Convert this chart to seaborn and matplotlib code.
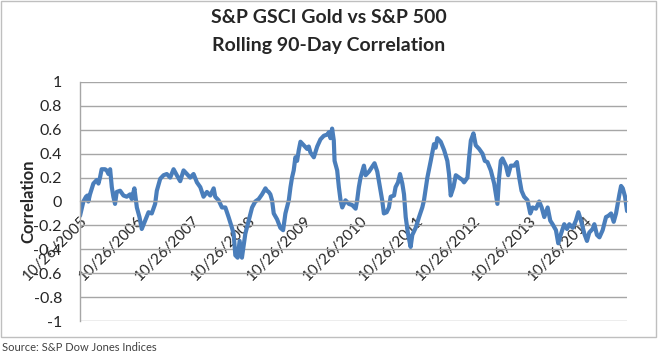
import matplotlib
matplotlib.use('Agg')
from matplotlib import pyplot as plt
from matplotlib.patches import Rectangle
import seaborn as sns
import pandas as pd

start_date = '2005-10-26'
# days after start_date
day_offsets = [
    0, 22, 39, 48, 54, 65, 87, 109, 120, 130, 141, 163, 174, 185, 196, 207, 217, 228, 239, 261,
    283, 304, 326, 337, 354, 370, 387, 402, 424, 446, 467, 489, 500, 522, 544, 565, 587, 609, 630, 652,
    674, 696, 717, 739, 761, 783, 804, 826, 848, 870, 880, 902, 924, 946, 967, 989, 1000, 1011, 1026, 1039,
    1054, 1076, 1098, 1120, 1141, 1163, 1185, 1207, 1217, 1228, 1239, 1250, 1261, 1283, 1304, 1322, 1337, 1359, 1370, 1380,
    1391, 1402, 1413, 1424, 1435, 1457, 1478, 1489, 1500, 1522, 1544, 1565, 1587, 1609, 1620, 1630, 1641, 1652, 1657, 1674,
    1685, 1696, 1707, 1728, 1750, 1772, 1794, 1804, 1815, 1826, 1848, 1859, 1881, 1902, 1917, 1935, 1952, 1967, 1978, 1996,
    2011, 2022, 2044, 2054, 2070, 2083, 2098, 2109, 2120, 2135, 2152, 2163, 2185, 2207, 2228, 2239, 2261, 2283, 2304, 2315,
    2326, 2348, 2370, 2391, 2402, 2413, 2431, 2446, 2467, 2489, 2500, 2522, 2533, 2544, 2561, 2576, 2598, 2620, 2635, 2652,
    2674, 2696, 2717, 2728, 2739, 2750, 2772, 2787, 2804, 2826, 2844, 2859, 2874, 2891, 2913, 2931, 2946, 2968, 2989, 3005,
    3022, 3044, 3061, 3076, 3098, 3113, 3131, 3152, 3170, 3185, 3207, 3228, 3244, 3261, 3283, 3300, 3315, 3337, 3348, 3365,
    3381, 3402, 3424, 3439, 3457, 3474, 3489, 3500, 3511, 3522, 3533, 3548, 3561,
]
correlation = [
    -0.12, 0.00, 0.04, 0.05, 0.00, 0.06, 0.15, 0.18, 0.15, 0.20, 0.27, 0.27, 0.26, 0.23, 0.27, 0.12, 0.04, -0.02, 0.08, 0.09,
    0.05, 0.04, 0.06, 0.02, 0.11, -0.05, -0.13, -0.23, -0.16, -0.09, -0.10, -0.02, 0.09, 0.19, 0.22, 0.23, 0.20, 0.27, 0.22, 0.17,
    0.26, 0.23, 0.20, 0.23, 0.16, 0.12, 0.04, 0.08, 0.05, 0.11, 0.04, 0.01, -0.05, -0.05, -0.13, -0.22, -0.27, -0.45, -0.47, -0.33,
    -0.47, -0.27, -0.16, -0.05, 0.00, 0.02, 0.06, 0.11, 0.09, 0.08, 0.06, 0.01, -0.10, -0.15, -0.22, -0.24, -0.10, 0.01, 0.12, 0.20,
    0.26, 0.37, 0.34, 0.43, 0.50, 0.47, 0.44, 0.46, 0.41, 0.37, 0.46, 0.52, 0.55, 0.56, 0.58, 0.53, 0.61, 0.51, 0.34, 0.26,
    0.12, 0.01, -0.05, 0.01, -0.02, -0.03, -0.06, 0.01, 0.12, 0.20, 0.30, 0.22, 0.25, 0.29, 0.32, 0.25, 0.12, 0.01, -0.10, -0.09,
    -0.05, 0.04, 0.05, 0.12, 0.16, 0.23, 0.15, 0.06, -0.13, -0.27, -0.38, -0.28, -0.22, -0.13, -0.05, 0.01, 0.20, 0.34, 0.48, 0.45,
    0.53, 0.50, 0.43, 0.34, 0.23, 0.05, 0.12, 0.22, 0.20, 0.18, 0.16, 0.20, 0.37, 0.51, 0.57, 0.47, 0.44, 0.40, 0.34, 0.33,
    0.26, 0.15, -0.02, 0.20, 0.34, 0.36, 0.30, 0.22, 0.30, 0.30, 0.33, 0.20, 0.09, 0.04, 0.01, -0.10, -0.05, -0.06, 0.00, -0.05,
    -0.13, -0.05, -0.16, -0.19, -0.24, -0.35, -0.27, -0.19, -0.23, -0.19, -0.22, -0.16, -0.09, -0.16, -0.27, -0.33, -0.26, -0.23, -0.19, -0.28,
    -0.30, -0.24, -0.13, -0.12, -0.10, -0.17, -0.10, -0.02, 0.06, 0.13, 0.11, 0.04, -0.08,
]
tick_dates = ['2005-10-26', '2006-10-26', '2007-10-26', '2008-10-26', '2009-10-26',
              '2010-10-26', '2011-10-26', '2012-10-26', '2013-10-26', '2014-10-26']
tick_labels = ['10/26/2005', '10/26/2006', '10/26/2007', '10/26/2008', '10/26/2009',
               '10/26/2010', '10/26/2011', '10/26/2012', '10/26/2013', '10/26/2014']
y_ticks = [-1, -0.8, -0.6, -0.4, -0.2, 0, 0.2, 0.4, 0.6, 0.8, 1]
y_tick_labels = ['-1', '-0.8', '-0.6', '-0.4', '-0.2', '0', '0.2', '0.4', '0.6', '0.8', '1']

df = pd.DataFrame({
    'date': pd.Timestamp(start_date) + pd.to_timedelta(day_offsets, unit='D'),
    'corr': correlation,
})

sns.set_style('white')
plt.rcParams['font.family'] = ['Lato', 'DejaVu Sans']

fig = plt.figure(figsize=(6.58, 3.56), dpi=100)
ax = fig.add_axes([0.1216, 0.0983, 0.8314, 0.6714])

sns.lineplot(data=df, x='date', y='corr', ax=ax, color='#4A7EBB', linewidth=3)

# spine moves reset the ticks, so do them first
for side in ['top', 'right']:
    ax.spines[side].set_visible(False)
ax.spines['bottom'].set_position(('data', 0))
ax.spines['bottom'].set_color('#A6A6A6')
ax.spines['left'].set_color('#A6A6A6')
ax.spines['left'].set_linewidth(1)
ax.spines['bottom'].set_linewidth(1)

ax.set_ylim(-1, 1)
ax.set_xlim(df['date'].iloc[0], df['date'].iloc[-1])
ax.yaxis.grid(True, color='#A6A6A6', linewidth=1)
ax.set_axisbelow(True)
ax.tick_params(axis='both', length=0)
ax.tick_params(axis='x', pad=9)
ax.tick_params(axis='y', pad=13)

ax.set_yticks(y_ticks, y_tick_labels, fontsize=11.5)
ax.set_xticks(pd.to_datetime(tick_dates), tick_labels, fontsize=11,
              rotation=45, ha='right', va='top', rotation_mode='anchor')

ax.set_xlabel('')
ax.set_ylabel('Correlation', fontsize=12, fontweight='bold')
ax.yaxis.set_label_coords(-0.08, 0.5)

fig.text(0.5, 0.95, 'S&P GSCI Gold vs S&P 500', ha='center', va='center',
         fontsize=14, fontweight='bold')
fig.text(0.5, 0.872, 'Rolling 90-Day Correlation', ha='center', va='center',
         fontsize=14, fontweight='bold')

fig.patches.append(Rectangle((0.002, 0.053), 0.995, 0.944, transform=fig.transFigure,
                             fill=False, edgecolor='#BFBFBF', linewidth=1))
fig.text(0.003, 0.024, 'Source: S&P Dow Jones Indices', ha='left', va='center',
         fontsize=8, color='#404040')

fig.savefig('out.png', dpi=100)
